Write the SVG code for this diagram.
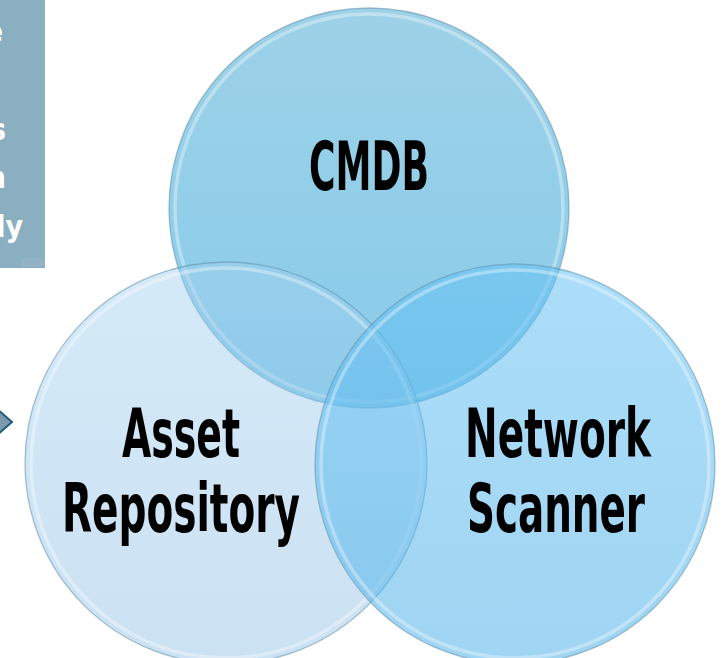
<svg xmlns="http://www.w3.org/2000/svg" width="721" height="658" viewBox="0 0 721 658">
<defs>
<linearGradient id="gC" x1="0" y1="0" x2="0" y2="1">
<stop offset="0" stop-color="rgb(116,190,222)"/>
<stop offset="1" stop-color="rgb(84,181,224)"/>
</linearGradient>
<linearGradient id="gA" x1="0" y1="0" x2="0" y2="1">
<stop offset="0" stop-color="rgb(162,208,240)"/>
<stop offset="1" stop-color="rgb(140,190,228)"/>
</linearGradient>
<linearGradient id="gN" x1="0" y1="0" x2="0" y2="1">
<stop offset="0" stop-color="rgb(104,194,244)"/>
<stop offset="1" stop-color="rgb(80,178,232)"/>
</linearGradient>
<style>
.rim{fill:none;stroke:#5f8fab;stroke-opacity:0.55;stroke-width:1.3}
.hl{fill:none;stroke:#ffffff;stroke-opacity:0.35;stroke-width:3.5}
.lbl{font-family:"Liberation Sans Narrow","DejaVu Sans Condensed","Roboto Condensed",sans-serif;font-weight:bold;font-size:67px;fill:#000;text-anchor:middle}
.pt{font-family:"DejaVu Sans Condensed","Liberation Sans Narrow",sans-serif;font-weight:bold;font-size:30px;fill:#ffffff}
</style>
</defs>
<rect width="721" height="658" fill="#ffffff"/>
<g id="panel">
<rect x="0" y="0" width="45" height="268" fill="#8aafc0"/>
<rect x="22" y="258" width="22" height="9" fill="#93b3c4"/>
<text class="pt" x="3" y="42" text-anchor="end">e</text>
<text class="pt" x="6" y="140" text-anchor="end">s</text>
<text class="pt" x="6" y="188" text-anchor="end">n</text>
<text class="pt" x="23" y="237" text-anchor="end">ly</text>
</g>
<g id="chevron">
<polygon points="-4,408 12,422 -4,436" fill="#7b98ad" stroke="#1e5a78" stroke-width="2" stroke-linejoin="miter"/>
</g>
<g id="cmdb">
<circle cx="369" cy="208" r="200" fill="url(#gC)" fill-opacity="0.7"/>
<circle cx="369" cy="208" r="200" class="rim"/>
<circle cx="369" cy="208" r="194" class="hl"/>
</g>
<g id="asset">
<circle cx="226" cy="463" r="201" fill="url(#gA)" fill-opacity="0.45"/>
<circle cx="226" cy="463" r="201" class="rim"/>
<circle cx="226" cy="463" r="195" class="hl"/>
</g>
<g id="network">
<circle cx="515" cy="464" r="200" fill="url(#gN)" fill-opacity="0.55"/>
<circle cx="515" cy="464" r="200" class="rim"/>
<circle cx="515" cy="464" r="194" class="hl"/>
</g>
<g id="connectors"></g>
<g id="labels">
<text class="lbl" x="369" y="190" textLength="120" lengthAdjust="spacingAndGlyphs">CMDB</text>
<text class="lbl" x="181" y="457" textLength="118" lengthAdjust="spacingAndGlyphs">Asset</text>
<text class="lbl" x="181" y="532" textLength="238" lengthAdjust="spacingAndGlyphs">Repository</text>
<text class="lbl" x="558" y="457" textLength="186" lengthAdjust="spacingAndGlyphs">Network</text>
<text class="lbl" x="556" y="532" textLength="178" lengthAdjust="spacingAndGlyphs">Scanner</text>
</g>
</svg>
